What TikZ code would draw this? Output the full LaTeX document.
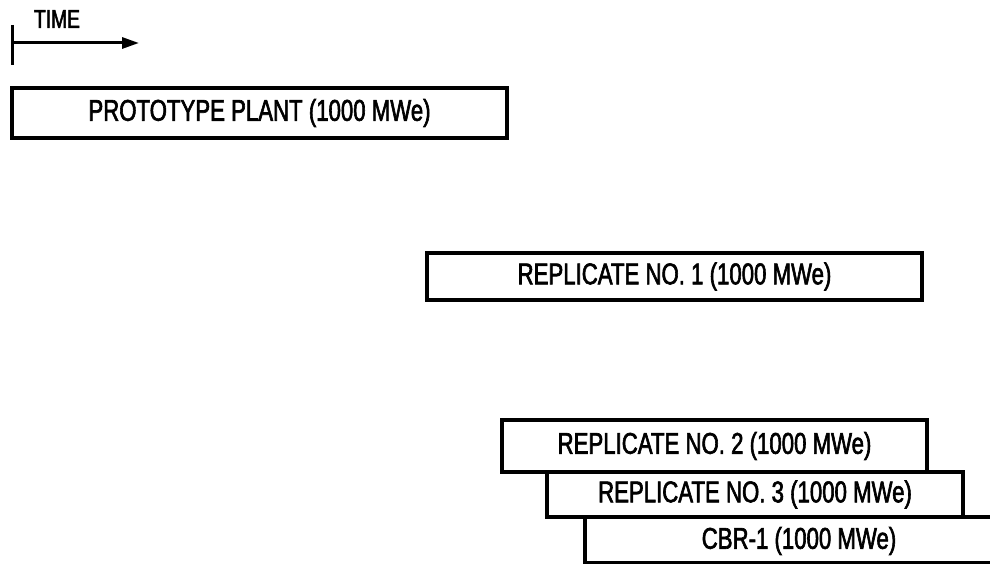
\documentclass[tikz,border=0pt]{standalone}
\usepackage{fontspec}
\newfontfamily\condfont[FakeStretch=0.74,FakeBold=2]{Liberation Sans}
\usetikzlibrary{arrows.meta}
\tikzset{
  bar/.style={draw=black, line width=3.2pt, rectangle, inner sep=0pt, anchor=center,
    font=\condfont\fontsize{30}{32}\selectfont},
  barline/.style={draw=black, line width=3.2pt},
  lbl/.style={font=\condfont\fontsize{30}{32}\selectfont, inner sep=0pt},
}
\begin{document}
\begin{tikzpicture}[x=1pt,y=-1pt]
\useasboundingbox (0,0) rectangle (990,564);
% time axis
\node[font=\condfont\fontsize{26}{28}\selectfont, inner sep=0pt] (time) at (57,19) {TIME};
\coordinate (t0) at (12,43);
\coordinate (t1) at (139,43);
\coordinate (tk0) at (12,25);
\coordinate (tk1) at (12,65);
\draw[line width=3pt] (tk0) -- (tk1);
\draw[line width=3pt, -{Triangle[length=17pt,width=11pt]}] (t0) -- (t1);
% bars
\node[bar, minimum width=495pt, minimum height=50pt] (proto) at (259.5,113) {PROTOTYPE PLANT (1000 MWe)};
\node[bar, minimum width=495pt, minimum height=47pt] (rep1) at (674.5,276.5) {REPLICATE NO. 1 (1000 MWe)};
\node[bar, minimum width=425pt, minimum height=52pt] (rep2) at (714.5,446) {REPLICATE NO. 2 (1000 MWe)};
\node[bar, minimum width=416pt, minimum height=45pt] (rep3) at (755,494.5) {REPLICATE NO. 3 (1000 MWe)};
% CBR-1 (open to the right)
\coordinate (c0) at (585,517);
\coordinate (c1) at (585,563);
\coordinate (ce0) at (990,517);
\coordinate (ce1) at (990,563);
\draw[barline] (ce0) -- (c0) -- (c1) -- (ce1);
\node[lbl] (cbr) at (799,541) {CBR-1 (1000 MWe)};
\end{tikzpicture}
\end{document}
